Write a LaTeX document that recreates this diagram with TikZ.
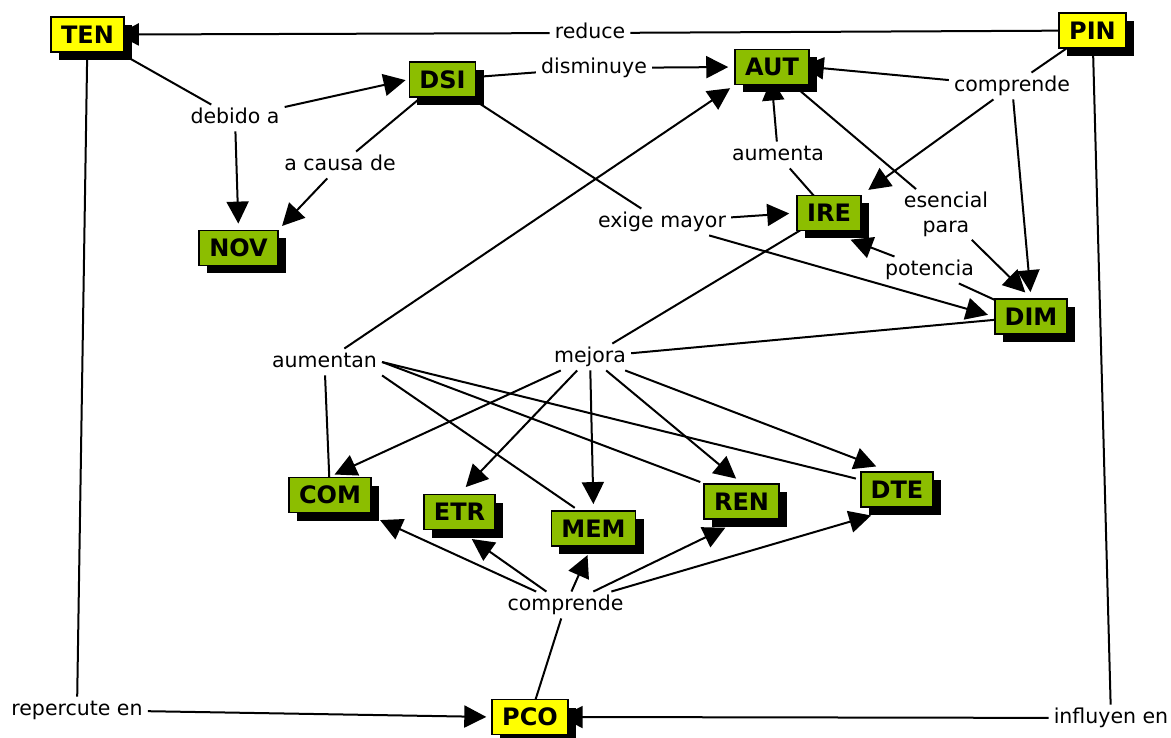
\documentclass[tikz,border=0pt]{standalone}
\usepackage{fontspec}
\setmainfont{DejaVu Sans}
\usetikzlibrary{arrows.meta,shadows,calc,fit}
\pgfdeclarelayer{bg}
\pgfsetlayers{bg,main}
\definecolor{boxgreen}{RGB}{140,190,0}
\definecolor{boxyellow}{RGB}{255,255,0}

\begin{document}
\begin{tikzpicture}[x=1pt,y=-1pt,
  concept/.style={draw=black, line width=1.8pt, rectangle, inner xsep=10pt, inner ysep=0pt,
    minimum height=35pt, text height=17.5pt, text depth=0pt,
    font=\bfseries\fontsize{24}{28}\selectfont,
    drop shadow={shadow xshift=8pt, shadow yshift=-8pt, opacity=1, fill=black}},
  gbox/.style={concept, fill=boxgreen},
  ybox/.style={concept, fill=boxyellow},
  phrase/.style={inner xsep=5pt, inner ysep=3pt, text height=15.6pt, text depth=4.9pt,
    font=\fontsize{20.5}{24.6}\selectfont},
  phrase2/.style={inner xsep=5pt, inner ysep=3pt, align=center,
    font=\fontsize{20.5}{24.6}\selectfont},
  hull/.style={draw=none, inner sep=0pt, rectangle},
  link/.style={line width=2pt},
  arr/.style={link, -{Triangle[length=22pt,width=22pt]}},
]
\useasboundingbox (0,0) rectangle (1171,738);
\begin{pgfonlayer}{bg}
  \fill[white] (0,0) rectangle (1171,738);
\end{pgfonlayer}

% concepts
\node[ybox] (TEN) at (87.5,34.5) {TEN};
\node[ybox] (PIN) at (1092.5,30.5) {PIN};
\node[gbox] (DSI) at (442.5,79.5) {DSI};
\node[gbox] (AUT) at (772,67) {AUT};
\node[gbox] (IRE) at (829,213) {IRE};
\node[gbox] (DIM) at (1031,316.5) {DIM};
\node[gbox] (NOV) at (238.5,248) {NOV};
\node[gbox] (COM) at (330,495) {COM};
\node[gbox] (ETR) at (459.5,512) {ETR};
\node[gbox] (MEM) at (593.5,528.5) {MEM};
\node[gbox] (REN) at (741.5,501.5) {REN};
\node[gbox] (DTE) at (897,489.5) {DTE};
\node[ybox] (PCO) at (530,717) {PCO};

% outlines that include the shadow
\coordinate (COMse) at ($(COM.south east)+(8,8)$);
\coordinate (MEMse) at ($(MEM.south east)+(8,8)$);
\node[hull, fit=(COM.north west)(COMse)] (COMsh) {};
\node[hull, fit=(MEM.north west)(MEMse)] (MEMsh) {};

% linking phrases
\node[phrase] (reduce) at (590,33) {reduce};
\node[phrase] (debido) at (235,118) {debido a};
\node[phrase] (acausa) at (340,165) {a causa de};
\node[phrase] (disminuye) at (594,68) {disminuye};
\node[phrase] (compT) at (1012,86) {comprende};
\node[phrase] (aumenta) at (778,155) {aumenta};
\node[phrase2] (esencial) at (946,214.5) {esencial\\para};
\node[phrase] (exige) at (662,222) {exige mayor};
\node[phrase] (potencia) at (929.5,270) {potencia};
\node[phrase] (aumentan) at (324.5,362) {aumentan};
\node[phrase] (mejora) at (590,357) {mejora};
\node[phrase] (compB) at (565.5,605) {comprende};
\node[phrase] (repercute) at (77,710) {repercute en};
\node[phrase] (influyen) at (1111,718) {influyen en};

\begin{pgfonlayer}{bg}
  % PIN reduce TEN
  \draw[link] (PIN.center) -- (reduce);
  \draw[arr, shorten >=-8pt] (reduce) -- (TEN.east);
  % TEN debido a DSI, NOV
  \draw[link] (TEN.center) -- (debido);
  \draw[arr, shorten >=3pt] (debido) -- (DSI.west);
  \draw[arr, shorten >=6pt] (debido) -- (NOV.north);
  % DSI a causa de NOV
  \draw[link] (DSI.center) -- (acausa);
  \draw[arr, shorten >=5pt] (acausa) -- (NOV.north east);
  % DSI disminuye AUT
  \draw[link] (DSI.center) -- (disminuye);
  \draw[arr, shorten >=6pt] (disminuye) -- (AUT.west);
  % DSI exige mayor IRE, DIM
  \draw[link] (DSI.center) -- (exige);
  \draw[arr, shorten >=7pt] (exige) -- (IRE.west);
  \draw[arr, shorten >=6pt] (exige) -- (DIM.west);
  % PIN comprende AUT, IRE, DIM
  \draw[link] (PIN.center) -- (compT);
  \draw[arr, shorten >=-8pt] (compT) -- (AUT.east);
  \draw[arr, shorten >=8pt] (compT) -- (IRE.north east);
  \draw[arr, shorten >=6pt] (compT) -- (DIM.north);
  % IRE aumenta AUT
  \draw[link] (IRE.center) -- (aumenta);
  \draw[arr, shorten >=-7pt] (aumenta) -- (AUT.south);
  % AUT esencial para DIM
  \draw[link] (AUT.center) -- (esencial);
  \draw[arr, shorten >=8pt] (esencial) -- (DIM.north);
  % DIM potencia IRE
  \draw[link] (DIM.center) -- (potencia);
  \draw[arr, shorten >=23pt] (potencia) -- (IRE.south);
  % IRE, DIM mejora ...
  \draw[link] (IRE.center) -- (mejora);
  \draw[link] (DIM.center) -- (mejora);
  \draw[arr, shorten >=5pt] (mejora) -- (COM.north);
  \draw[arr, shorten >=9pt] (mejora) -- (ETR.north);
  \draw[arr, shorten >=6pt] (mejora) -- (MEM.north);
  \draw[arr, shorten >=7pt] (mejora) -- (REN.north);
  \draw[arr, shorten >=13pt] (mejora) -- (DTE.115);
  % COM, MEM, REN, DTE aumentan AUT
  \draw[link] (COM.center) -- (aumentan);
  \draw[link, shorten >=4pt] (aumentan.south east) -- (MEM.130);
  \draw[link, shorten >=3pt] (aumentan.east) -- (REN.north west);
  \draw[link, shorten >=4pt] (aumentan.east) -- (DTE.165);
  \draw[arr, shorten >=5pt] (aumentan) -- (AUT.south west);
  % PCO comprende ...
  \draw[link] (PCO.center) -- (compB);
  \draw[arr] (compB) -- (COMsh);
  \draw[arr, shorten >=15pt] (compB) -- (ETR.south);
  \draw[arr] (compB) -- (MEMsh);
  \draw[arr, shorten >=18pt] (compB) -- (REN.south);
  \draw[arr, shorten >=27pt] (compB) -- (DTE.south);
  % TEN repercute en PCO
  \draw[link] (TEN.center) -- (repercute);
  \draw[arr, shorten >=5pt] (repercute) -- (PCO.west);
  % PIN influyen en PCO
  \draw[link] (PIN.center) -- (influyen);
  \draw[arr, shorten >=-8pt] (influyen) -- (PCO.east);
\end{pgfonlayer}
\end{tikzpicture}
\end{document}
